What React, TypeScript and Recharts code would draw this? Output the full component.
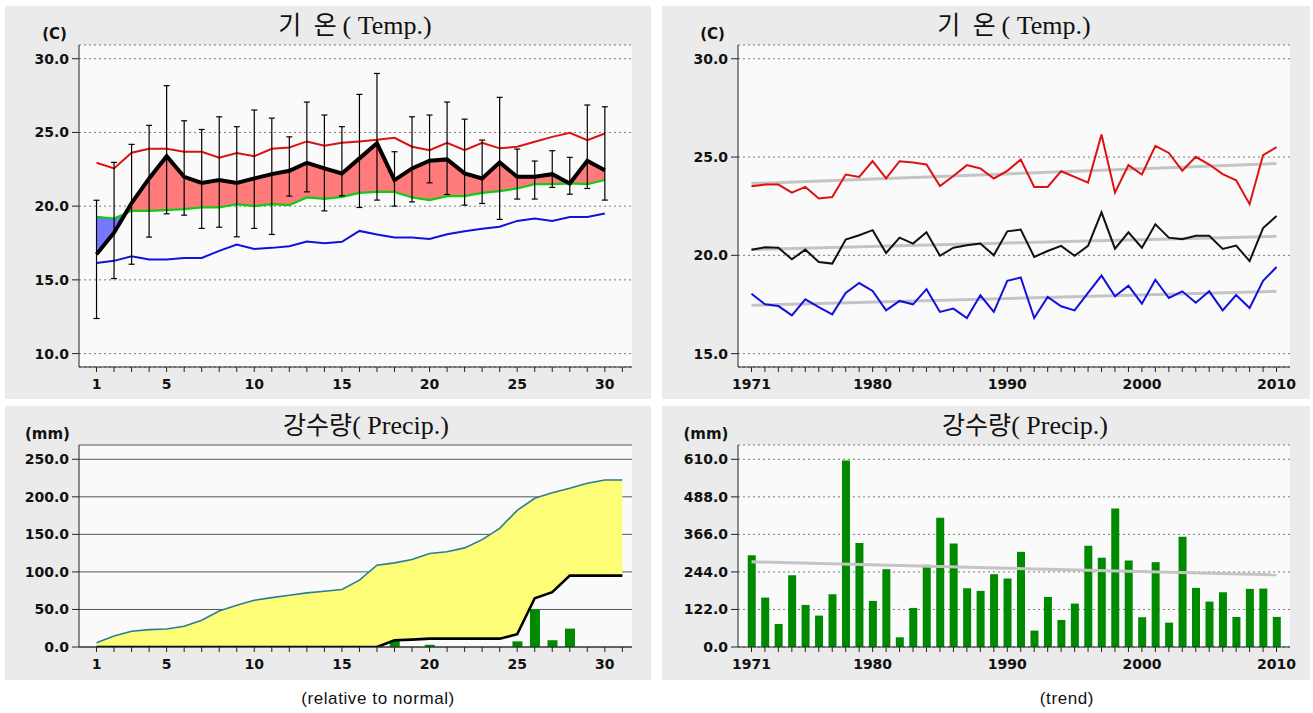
import React from 'react';
import {
  ComposedChart, Line, Area, Bar, XAxis, YAxis, CartesianGrid, ErrorBar,
} from 'recharts';

// 일별 기온 (평년 대비)
const DAYS = [1, 2, 3, 4, 5, 6, 7, 8, 9, 10, 11, 12, 13, 14, 15, 16, 17, 18, 19, 20, 21, 22, 23, 24, 25, 26, 27, 28, 29, 30];
const T_MAX = [22.94, 22.56, 23.62, 23.89, 23.89, 23.69, 23.69, 23.28, 23.6, 23.39, 23.89, 23.98, 24.39, 24.1, 24.3, 24.39, 24.5, 24.64, 24.03, 23.8, 24.3, 23.8, 24.3, 23.92, 24.03, 24.37, 24.7, 24.98, 24.48, 24.93];
const T_MEAN = [16.74, 18.2, 20.2, 21.88, 23.39, 21.99, 21.58, 21.77, 21.58, 21.88, 22.17, 22.4, 22.94, 22.56, 22.22, 23.24, 24.26, 21.77, 22.56, 23.08, 23.17, 22.22, 21.88, 22.97, 21.99, 21.99, 22.17, 21.54, 23.08, 22.44];
const T_NORM = [19.27, 19.16, 19.68, 19.68, 19.73, 19.8, 19.91, 19.91, 20.14, 20.0, 20.14, 20.07, 20.59, 20.5, 20.63, 20.9, 20.97, 20.97, 20.59, 20.41, 20.68, 20.68, 20.9, 21.02, 21.2, 21.49, 21.49, 21.54, 21.49, 21.77];
const T_MIN = [16.15, 16.29, 16.6, 16.38, 16.38, 16.49, 16.49, 16.97, 17.4, 17.1, 17.17, 17.28, 17.6, 17.48, 17.58, 18.32, 18.08, 17.87, 17.87, 17.78, 18.1, 18.3, 18.46, 18.6, 19.0, 19.16, 19.0, 19.27, 19.27, 19.5];
const T_HIGH = [20.4, 22.97, 24.19, 25.48, 28.17, 25.79, 25.2, 26.06, 25.39, 26.52, 25.97, 24.7, 27.06, 26.18, 25.39, 27.58, 29.0, 23.69, 26.06, 26.18, 27.06, 25.9, 24.48, 27.38, 23.87, 23.06, 23.76, 23.31, 26.86, 26.74];
const T_LOW = [12.38, 15.09, 16.06, 17.9, 19.48, 19.39, 18.49, 18.57, 17.92, 18.49, 18.08, 20.68, 20.97, 19.68, 20.7, 19.91, 20.41, 20.0, 20.29, 21.58, 20.79, 20.07, 20.18, 19.1, 20.48, 20.48, 21.27, 20.81, 21.2, 20.41];

// 일별 강수량 (누적)
const P_DAYS = [1, 2, 3, 4, 5, 6, 7, 8, 9, 10, 11, 12, 13, 14, 15, 16, 17, 18, 19, 20, 21, 22, 23, 24, 25, 26, 27, 28, 29, 30, 31];
const P_NORM_CUM = [5.8, 14.7, 20.9, 23.1, 24.0, 27.6, 35.6, 48.0, 55.6, 62.3, 65.8, 68.9, 72.1, 74.3, 76.5, 89, 109, 112, 116.5, 124.6, 126.8, 132, 143, 158, 182, 198, 205.5, 211.3, 218, 222.4, 222.4];
const P_CUM = [0, 0, 0, 0, 0, 0, 0, 0, 0, 0, 0, 0, 0, 0, 0, 0, 0, 8.9, 9.8, 11.1, 11.1, 11.1, 11.1, 11.1, 17, 65, 73, 95, 95, 95, 95];
const P_RAIN = [null, null, null, null, null, null, null, null, null, null, null, null, null, null, null, null, null, 8, null, 3, null, null, null, null, 7.5, 50, 9, 24.5, null, null, null];

// 연별 기온 (경향)
const YEARS = [1971, 1972, 1973, 1974, 1975, 1976, 1977, 1978, 1979, 1980, 1981, 1982, 1983, 1984, 1985, 1986, 1987, 1988, 1989, 1990, 1991, 1992, 1993, 1994, 1995, 1996, 1997, 1998, 1999, 2000, 2001, 2002, 2003, 2004, 2005, 2006, 2007, 2008, 2009, 2010];
const Y_MAX = [23.52, 23.6, 23.6, 23.19, 23.48, 22.89, 22.97, 24.11, 23.99, 24.79, 23.91, 24.79, 24.72, 24.62, 23.52, 24.04, 24.59, 24.42, 23.91, 24.3, 24.87, 23.48, 23.48, 24.28, 23.99, 23.7, 26.15, 23.19, 24.59, 24.11, 25.57, 25.21, 24.3, 25.01, 24.62, 24.13, 23.82, 22.6, 25.1, 25.5];
const Y_MEAN = [20.29, 20.41, 20.39, 19.8, 20.29, 19.66, 19.58, 20.8, 21.02, 21.28, 20.12, 20.9, 20.6, 21.17, 19.98, 20.39, 20.51, 20.6, 20.0, 21.22, 21.31, 19.92, 20.22, 20.48, 19.98, 20.48, 22.19, 20.34, 21.17, 20.39, 21.58, 20.9, 20.82, 21.0, 21.0, 20.33, 20.5, 19.71, 21.39, 22.0];
const Y_MIN = [18.05, 17.51, 17.42, 16.95, 17.76, 17.37, 17.0, 18.09, 18.59, 18.19, 17.2, 17.68, 17.51, 18.28, 17.12, 17.29, 16.81, 17.97, 17.12, 18.7, 18.87, 16.81, 17.88, 17.41, 17.2, 18.09, 18.97, 17.92, 18.46, 17.54, 18.76, 17.83, 18.17, 17.59, 18.17, 17.2, 17.98, 17.32, 18.7, 19.41];
const TREND_YEARS = [1971, 2010];
const TR_MAX = [23.65, 24.67];
const TR_MEAN = [20.3, 20.97];
const TR_MIN = [17.46, 18.17];

// 연 강수량
const Y_PRECIP = [298.5, 160.6, 74.9, 233.4, 136.8, 102, 171.5, 606, 337.6, 149.8, 252.9, 31.5, 127, 267, 420, 336.5, 191, 182.4, 236.6, 222.5, 309.3, 53.2, 162.8, 87.9, 141.1, 328.9, 289.8, 450.4, 281.1, 96.6, 275.7, 79.2, 358.2, 192.1, 147.6, 178, 97.7, 188.9, 190, 97.7];
const TR_PRECIP = [276.8, 234.5];

// 축 눈금
const DAY_LABELS = [1, 5, 10, 15, 20, 25, 30];
const DAY_TICKS = [...P_DAYS];
const YEAR_LABELS = [1971, 1980, 1990, 2000, 2010];
const TEMP_TICKS = [10, 15, 20, 25, 30];
const TEMP_Y_TICKS = [15, 20, 25, 30];
const PREC_TICKS = [0, 50, 100, 150, 200, 250];
const YPREC_TICKS = [0, 122, 244, 366, 488, 610];

const tempDaily = DAYS.map((day, i) => ({
  day,
  max: T_MAX[i], mean: T_MEAN[i], norm: T_NORM[i], min: T_MIN[i],
  err: [T_MEAN[i] - T_LOW[i], T_HIGH[i] - T_MEAN[i]],
}));

// 평년보다 높으면 빨강, 낮으면 파랑 (교차점 포함)
function fillData() {
  const out: { day: number; above: number[]; below: number[] }[] = [];
  for (let i = 0; i < DAYS.length; i++) {
    const m = T_MEAN[i], n = T_NORM[i];
    if (i > 0) {
      const d0 = T_MEAN[i - 1] - T_NORM[i - 1];
      const d1 = m - n;
      if (d0 * d1 < 0) {
        const t = d0 / (d0 - d1);
        const x = DAYS[i - 1] + t * (DAYS[i] - DAYS[i - 1]);
        const y = T_NORM[i - 1] + t * (n - T_NORM[i - 1]);
        out.push({ day: x, above: [y, y], below: [y, y] });
      }
    }
    out.push({ day: DAYS[i], above: [n, Math.max(m, n)], below: [Math.min(m, n), n] });
  }
  return out;
}

const precDaily = P_DAYS.map((day, i) => ({
  day, norm: P_NORM_CUM[i], cum: P_CUM[i], rain: P_RAIN[i], band: [P_CUM[i], P_NORM_CUM[i]],
}));

const tempYearly = YEARS.map((year, i) => ({ year, max: Y_MAX[i], mean: Y_MEAN[i], min: Y_MIN[i] }));
const precYearly = YEARS.map((year, i) => ({ year, prec: Y_PRECIP[i] }));
const trend = (vals: number[]) => TREND_YEARS.map((year, i) => ({ year, v: vals[i] }));

const TICK = { fontSize: 14, fontFamily: '"DejaVu Sans", Verdana, sans-serif', fontWeight: 700, fill: '#111' };
const AX = { stroke: '#222' };
const PANEL_BG = '#ebebeb';
const PLOT_BG = '#fafafa';

const fmtDay = (v: number) => (DAY_LABELS.includes(v) ? String(v) : '');
const fmtYear = (v: number) => (YEAR_LABELS.includes(v) ? String(v) : '');
const fmt1 = (v: number) => v.toFixed(1);

function Box({ left, top, w, h, children }: { left: number; top: number; w: number; h: number; children?: React.ReactNode }) {
  return (
    <div style={{ position: 'absolute', left, top, width: w, height: h, background: PANEL_BG }}>
      {children}
    </div>
  );
}

function DayAxis({ h }: { h: number }) {
  return (
    <XAxis type="number" dataKey="day" domain={[0, 31.55]} allowDataOverflow
      ticks={DAY_TICKS} interval={0} tickFormatter={fmtDay} tick={TICK}
      tickSize={5} tickMargin={7} height={h} axisLine={AX} tickLine={AX} />
  );
}

function YearAxis({ h }: { h: number }) {
  return (
    <XAxis type="number" dataKey="year" domain={[1970, 2011]} allowDataOverflow
      ticks={YEARS} interval={0} tickFormatter={fmtYear} tick={TICK}
      tickSize={5} tickMargin={7} height={h} axisLine={AX} tickLine={AX} />
  );
}

function Title({ x, y, ko, en }: { x: number; y: number; ko: string; en: string }) {
  return (
    <text x={x} y={y} textAnchor="middle">
      <tspan fontFamily='"Noto Sans CJK KR"' fontSize={25}>{ko}</tspan>
      <tspan fontFamily='"Liberation Serif"' fontSize={26}>{en}</tspan>
    </text>
  );
}

export default function App() {
  const fills = fillData();
  return (
    <div style={{ position: 'absolute', left: 0, top: 0, width: 1313, height: 713, background: '#fff' }}>
      {/* 기온 - 평년 대비 */}
      <Box left={5} top={6} w={646} h={393}>
        <ComposedChart width={646} height={393} data={tempDaily} margin={{ top: 39, right: 19, left: 0, bottom: 0 }}>
          <CartesianGrid vertical={false} fill={PLOT_BG} stroke="#777" strokeDasharray="2 3" />
          <DayAxis h={32} />
          <YAxis type="number" domain={[9.09, 30.93]} allowDataOverflow ticks={TEMP_TICKS} interval={0}
            tickFormatter={fmt1} tick={TICK} width={74} tickSize={7} tickMargin={3} axisLine={AX} tickLine={AX} />
          <Area data={fills} dataKey="above" type="linear" stroke="none" fill="#ff7a7a" fillOpacity={1} isAnimationActive={false} />
          <Area data={fills} dataKey="below" type="linear" stroke="none" fill="#7777ff" fillOpacity={1} isAnimationActive={false} />
          <Line dataKey="norm" stroke="#11cc11" strokeWidth={2.2} dot={false} activeDot={false} isAnimationActive={false} />
          <Line dataKey="min" stroke="#1111dd" strokeWidth={2} dot={false} activeDot={false} isAnimationActive={false} />
          <Line dataKey="max" stroke="#dd1111" strokeWidth={2} dot={false} activeDot={false} isAnimationActive={false} />
          <Line dataKey="mean" stroke="#000" strokeWidth={4} dot={false} activeDot={false} isAnimationActive={false}>
            <ErrorBar dataKey="err" direction="y" width={3} stroke="#000" strokeWidth={1.2} isAnimationActive={false} />
          </Line>
        </ComposedChart>
      </Box>

      {/* 기온 - 경향 */}
      <Box left={662} top={6} w={648} h={393}>
        <ComposedChart width={648} height={393} data={tempYearly} margin={{ top: 39, right: 20, left: 0, bottom: 0 }}>
          <CartesianGrid vertical={false} fill={PLOT_BG} stroke="#777" strokeDasharray="2 3" />
          <YearAxis h={32} />
          <YAxis type="number" domain={[14.32, 30.7]} allowDataOverflow ticks={TEMP_Y_TICKS} interval={0}
            tickFormatter={fmt1} tick={TICK} width={76} tickSize={7} tickMargin={3} axisLine={AX} tickLine={AX} />
          <Line data={trend(TR_MAX)} dataKey="v" stroke="#c4c4c4" strokeWidth={3} dot={false} activeDot={false} isAnimationActive={false} />
          <Line data={trend(TR_MEAN)} dataKey="v" stroke="#c4c4c4" strokeWidth={3} dot={false} activeDot={false} isAnimationActive={false} />
          <Line data={trend(TR_MIN)} dataKey="v" stroke="#c4c4c4" strokeWidth={3} dot={false} activeDot={false} isAnimationActive={false} />
          <Line dataKey="max" stroke="#dd1111" strokeWidth={2} dot={false} activeDot={false} isAnimationActive={false} />
          <Line dataKey="mean" stroke="#111" strokeWidth={2} dot={false} activeDot={false} isAnimationActive={false} />
          <Line dataKey="min" stroke="#1111dd" strokeWidth={2} dot={false} activeDot={false} isAnimationActive={false} />
        </ComposedChart>
      </Box>

      {/* 강수량 - 평년 대비 */}
      <Box left={5} top={406} w={646} h={274}>
        <ComposedChart width={646} height={274} data={precDaily} margin={{ top: 39, right: 19, left: 0, bottom: 0 }}>
          <CartesianGrid vertical={false} fill={PLOT_BG} stroke="#555" />
          <DayAxis h={33} />
          <YAxis type="number" domain={[0, 269]} allowDataOverflow ticks={PREC_TICKS} interval={0}
            tickFormatter={fmt1} tick={TICK} width={74} tickSize={7} tickMargin={3} axisLine={AX} tickLine={AX} />
          <Area dataKey="band" type="linear" stroke="none" fill="#fdfd78" fillOpacity={1} isAnimationActive={false} />
          <Bar dataKey="rain" fill="#008a00" barSize={10} isAnimationActive={false} />
          <Line dataKey="norm" type="linear" stroke="#2b7b9b" strokeWidth={1.6} dot={false} activeDot={false} isAnimationActive={false} />
          <Line dataKey="cum" type="linear" stroke="#000" strokeWidth={2.6} dot={false} activeDot={false} isAnimationActive={false} />
        </ComposedChart>
      </Box>

      {/* 강수량 - 경향 */}
      <Box left={662} top={406} w={648} h={274}>
        <ComposedChart width={648} height={274} data={precYearly} margin={{ top: 39, right: 20, left: 0, bottom: 0 }}>
          <CartesianGrid vertical={false} fill={PLOT_BG} stroke="#777" strokeDasharray="2 3" />
          <YearAxis h={33} />
          <YAxis type="number" domain={[0, 656.5]} allowDataOverflow ticks={YPREC_TICKS} interval={0}
            tickFormatter={fmt1} tick={TICK} width={76} tickSize={7} tickMargin={3} axisLine={AX} tickLine={AX} />
          <Line data={trend(TR_PRECIP)} dataKey="v" stroke="#c4c4c4" strokeWidth={3} dot={false} activeDot={false} isAnimationActive={false} />
          <Bar dataKey="prec" fill="#008a00" barSize={8} isAnimationActive={false} />
        </ComposedChart>
      </Box>

      {/* 제목, 단위, 설명 */}
      <svg width={1313} height={713} style={{ position: 'absolute', left: 0, top: 0, pointerEvents: 'none' }}>
        <g fill="#111">
          <Title x={355} y={34} ko={'기\u2002온 '} en="( Temp.)" />
          <Title x={1014} y={34} ko={'기\u2002온 '} en="( Temp.)" />
          <Title x={366} y={434} ko="강수량" en="( Precip.)" />
          <Title x={1025} y={434} ko="강수량" en="( Precip.)" />
          <g fontFamily='"DejaVu Sans", sans-serif' fontWeight={700} fontSize={15} textAnchor="middle">
            <text x={54.5} y={39}>(C)</text>
            <text x={712.5} y={39}>(C)</text>
            <text x={47.5} y={439}>(mm)</text>
            <text x={706} y={439}>(mm)</text>
          </g>
          <g fontFamily='"Liberation Sans", Arial, sans-serif' fontSize={17} letterSpacing={0.6} textAnchor="middle">
            <text x={378} y={704}>(relative to normal)</text>
            <text x={1067} y={704}>(trend)</text>
          </g>
        </g>
      </svg>
    </div>
  );
}
